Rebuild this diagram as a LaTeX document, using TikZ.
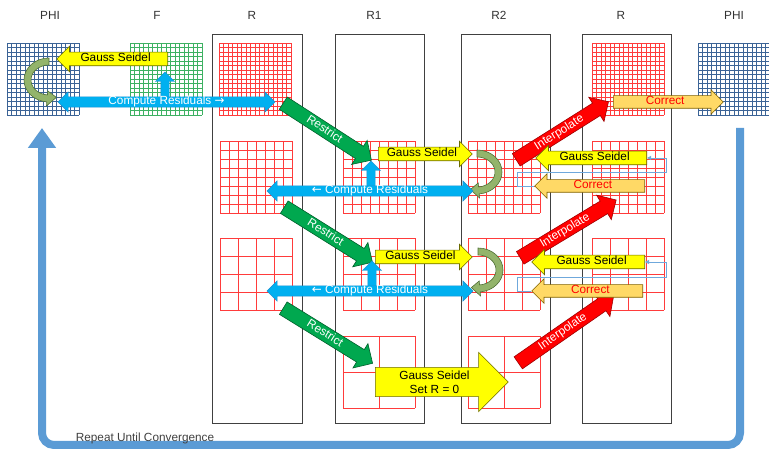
\documentclass[tikz,border=0pt]{standalone}
\usepackage{fontspec}
\setmainfont{Liberation Sans}
\newfontfamily\symf{DejaVu Sans}
\usetikzlibrary{shapes.arrows,arrows.meta}

\definecolor{phiblue}{HTML}{3B6396}
\definecolor{fgreen}{HTML}{3DB162}
\definecolor{gridred}{HTML}{FF3B3B}
\definecolor{gsyellow}{HTML}{FFFF00}
\definecolor{gsedge}{HTML}{6B6B00}
\definecolor{corrfill}{HTML}{FFD966}
\definecolor{corredge}{HTML}{7F6000}
\definecolor{resblue}{HTML}{00B0F0}
\definecolor{resedge}{HTML}{1F8FCF}
\definecolor{restrgreen}{HTML}{00A84F}
\definecolor{restredge}{HTML}{00602C}
\definecolor{interpred}{HTML}{FF0000}
\definecolor{interpedge}{HTML}{9E0000}
\definecolor{curvefill}{HTML}{93B46B}
\definecolor{curveedge}{HTML}{4F6F35}
\definecolor{loopblue}{HTML}{6FA8DC}
\definecolor{repeatblue}{HTML}{5B9BD5}
\definecolor{framegray}{HTML}{404040}

\tikzset{
  collabel/.style={text=black!80},
  colframe/.style={draw=framegray, line width=0.8pt},
  phigrid/.style={draw=phiblue, line width=0.5pt},
  fgrid/.style={draw=fgreen, line width=0.5pt},
  redgrid/.style={draw=gridred, line width=0.5pt},
  blockarrow/.style={single arrow, inner xsep=0pt,
    text height=8.5pt, text depth=2.5pt, line width=0.6pt},
  gsarrow/.style={blockarrow, fill=gsyellow, draw=gsedge, text=black,
    inner ysep=1pt, single arrow head extend=6pt},
  corrarrow/.style={blockarrow, fill=corrfill, draw=corredge, text=red,
    inner ysep=0.5pt, single arrow head extend=6pt},
  restrarrow/.style={blockarrow, fill=restrgreen, draw=restredge, text=white,
    inner ysep=1.5pt, single arrow head extend=7pt},
  interparrow/.style={blockarrow, fill=interpred, draw=interpedge, text=white,
    inner ysep=1.5pt, single arrow head extend=7pt},
  uparrow/.style={single arrow, rotate=90, inner xsep=0pt, inner ysep=4pt, text height=0pt, text depth=0pt,
    single arrow head extend=5.5pt, fill=resblue, draw=resedge, line width=0.4pt},
  resarrow/.style={double arrow, inner xsep=0pt, inner ysep=0pt, text height=8pt, text depth=2pt,
    double arrow head extend=5pt, fill=resblue, draw=resedge, line width=0.4pt, text=white},
  bigarrow/.style={single arrow, fill=gsyellow, draw=gsedge, align=center, inner xsep=0pt, inner ysep=3pt,
    single arrow head extend=15pt, line width=0.6pt},
  curvearrow/.style={fill=curvefill, draw=curveedge, line width=0.6pt},
  loopline/.style={draw=loopblue, line width=0.9pt, -{Triangle[length=4pt,width=4pt]}},
  repeatline/.style={draw=repeatblue, line width=8pt, rounded corners=12pt, -{Triangle[width=27pt,length=20pt]}}
}

\begin{document}
\begin{tikzpicture}[x=1pt,y=1pt,font=\fontsize{11.8}{14}\selectfont]
\useasboundingbox (0,0) rectangle (769,455);

% column titles
\node[collabel] (lphi) at (50,440) {PHI};
\node[collabel] (lf) at (157,440) {F};
\node[collabel] (lr) at (252,440) {R};
\node[collabel] (lr1) at (374,440) {R1};
\node[collabel] (lr2) at (499,440) {R2};
\node[collabel] (lrr) at (621,440) {R};
\node[collabel] (lphir) at (734,440) {PHI};

% grids
\draw[phigrid, shift={(7,340)}, step=4.5] (0,0) grid (72.01,72.01);
\draw[fgrid, shift={(130,340)}, step=4.5] (0,0) grid (72.01,72.01);
\draw[redgrid, shift={(219,340)}, step=4.5] (0,0) grid (72.01,72.01);
\draw[redgrid, shift={(592,340)}, step=4.5] (0,0) grid (72.01,72.01);
\draw[phigrid, shift={(698,340)}, step=4.5] (0,0) grid (72.01,72.01);
\foreach \gx in {220,343,468,592}
  \draw[redgrid, shift={(\gx,242)}, step=9] (0,0) grid (72.01,72.01);
\foreach \gx in {220,343,468,592}
  \draw[redgrid, shift={(\gx,145)}, step=18] (0,0) grid (72.01,72.01);
\foreach \gx in {343,468}
  \draw[redgrid, shift={(\gx,47)}, step=36] (0,0) grid (72.01,72.01);

% column frames
\draw[colframe] (212,32) rectangle (302,421);
\draw[colframe] (335,32) rectangle (424,421);
\draw[colframe] (461,32) rectangle (550,421);
\draw[colframe] (582,32) rectangle (671,421);

% top level
\node[gsarrow, shape border rotate=180, minimum height=111pt, anchor=tail] (gsphi) at (168,396) {Gauss Seidel};
\draw[curvearrow, shift={(49,375)}] (90:25 and 22) arc[start angle=90, end angle=265, x radius=25, y radius=22]
  -- (265:29 and 26) -- (290:21.5 and 18.5) -- (265:14 and 11) -- (265:18 and 15)
  arc[start angle=265, end angle=90, x radius=18, y radius=15] -- cycle;
\node[uparrow, minimum height=28pt, anchor=tail] (upf) at (165,355) {};
\node[resarrow, minimum height=217pt] (resphi) at (166.5,353) {Compute Residuals {\symf →}};
\node[restrarrow, rotate=-32.9, minimum height=105pt, anchor=tail] (restr1) at (283,352) {Restrict};
\node[interparrow, rotate=32.2, minimum height=109pt, anchor=tail] (interp1) at (516,295) {Interpolate};
\node[corrarrow, minimum height=110pt, anchor=tail] (corrphi) at (613,353) {Correct};

% level R1
\node[uparrow, minimum height=27pt, anchor=tail] (up2) at (371,267) {};
\node[gsarrow, minimum height=94pt, anchor=tail] (gs2) at (378,301) {Gauss Seidel};
\draw[curvearrow, shift={(477,283)}] (90:25 and 22) arc[start angle=90, end angle=-85, x radius=25, y radius=22]
  -- (-85:29 and 26) -- (-108:21.5 and 18.5) -- (-85:14 and 11) -- (-85:18 and 15)
  arc[start angle=-85, end angle=90, x radius=18, y radius=15] -- cycle;
\node[resarrow, minimum height=206pt] (res2) at (370,264) {{\symf ←} Compute Residuals};
\node[restrarrow, rotate=-32.0, minimum height=104pt, anchor=tail] (restr2) at (284,248) {Restrict};
\node[interparrow, rotate=31.1, minimum height=112pt, anchor=tail] (interp2) at (520,197) {Interpolate};
\node[gsarrow, shape border rotate=180, minimum height=111pt, anchor=tail] (gs2b) at (647,297) {Gauss Seidel};
\node[corrarrow, shape border rotate=180, minimum height=110pt, anchor=tail] (corr2) at (645,269) {Correct};
\draw[loopline] (corr2.tip) -- (517,269) -- (517,283) -- (666,283) -- (666,297) -- (gs2b.tail);

% level R2
\node[uparrow, minimum height=29pt, anchor=tail] (up3) at (372,165) {};
\node[gsarrow, minimum height=97pt, anchor=tail] (gs3) at (375,198) {Gauss Seidel};
\draw[curvearrow, shift={(478,185)}] (90:25 and 22) arc[start angle=90, end angle=-85, x radius=25, y radius=22]
  -- (-85:29 and 26) -- (-108:21.5 and 18.5) -- (-85:14 and 11) -- (-85:18 and 15)
  arc[start angle=-85, end angle=90, x radius=18, y radius=15] -- cycle;
\node[resarrow, minimum height=206pt] (res3) at (370,164) {{\symf ←} Compute Residuals};
\node[restrarrow, rotate=-31.7, minimum height=105pt, anchor=tail] (restr3) at (283,147) {Restrict};
\node[interparrow, rotate=34.8, minimum height=116pt, anchor=tail] (interp3) at (518,92) {Interpolate};
\node[gsarrow, shape border rotate=180, minimum height=113pt, anchor=tail] (gs3b) at (645,193) {Gauss Seidel};
\node[corrarrow, shape border rotate=180, minimum height=111pt, anchor=tail] (corr3) at (643,164) {Correct};
\draw[loopline] (corr3.tip) -- (517,164) -- (517,178) -- (666,178) -- (666,193) -- (gs3b.tail);

% coarsest level
\node[bigarrow, minimum height=133pt, anchor=tail] (gsbig) at (375,73) {Gauss Seidel\\Set R = 0};

% repeat loop
\coordinate (repstart) at (740,327);
\coordinate (repend) at (42,327);
\draw[repeatline] (repstart) -- (740,10) -- (42,10) -- (repend);
\node[text=black!75] (reptext) at (145,17) {Repeat Until Convergence};
\end{tikzpicture}
\end{document}
